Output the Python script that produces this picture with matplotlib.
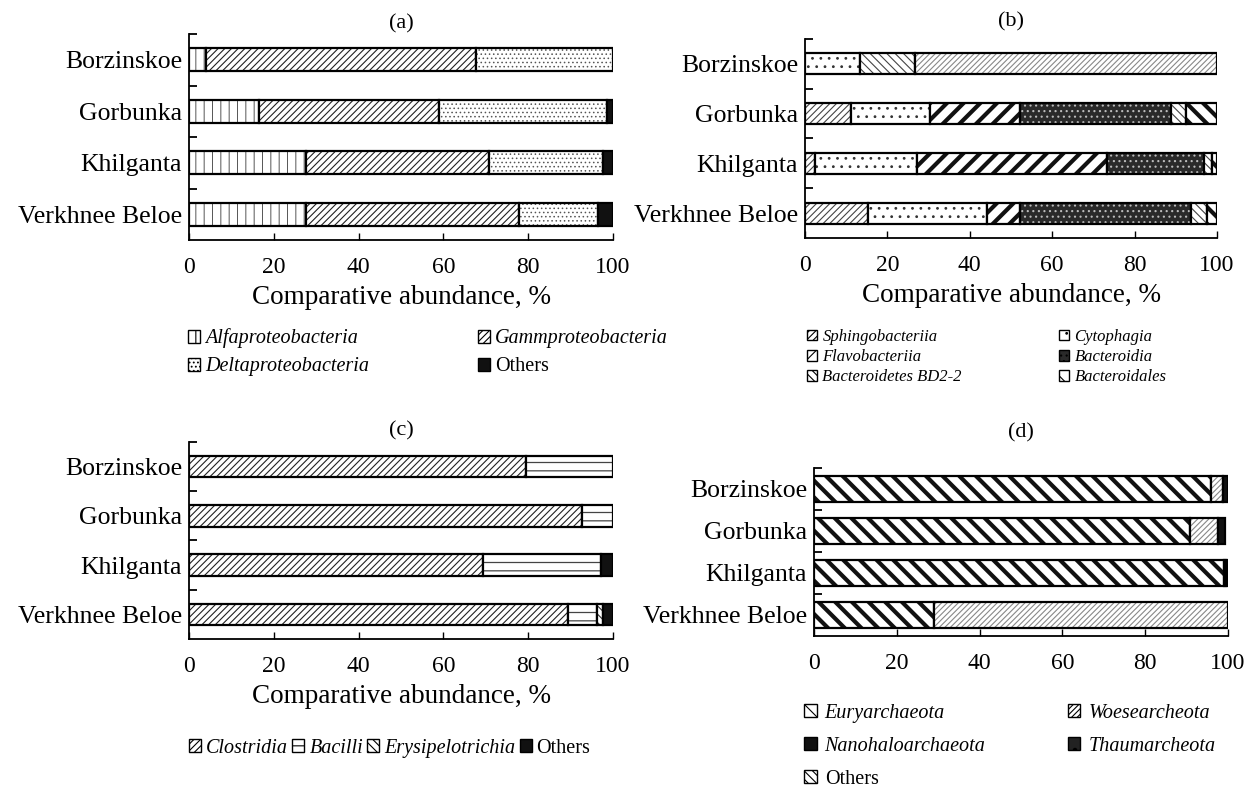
import matplotlib
matplotlib.use('Agg')
import matplotlib.pyplot as plt
from matplotlib.patches import Patch
import numpy as np

plt.rcParams['font.family'] = 'Liberation Serif'
plt.rcParams['hatch.linewidth'] = 0.8

lakes = ['Borzinskoe', 'Gorbunka', 'Khilganta', 'Verkhnee Beloe']

# (a) Proteobacteria, % per lake
a_labels = ['Alfaproteobacteria', 'Gammproteobacteria', 'Deltaproteobacteria', 'Others']
a_alfa = [4.1, 16.5, 27.6, 27.6]
a_gamma = [63.6, 42.4, 43.1, 50.2]
a_delta = [32.3, 39.7, 26.9, 18.6]
a_others = [0.0, 1.4, 2.4, 3.6]

# (b) Bacteroidetes
b_labels = ['Sphingobacteriia', 'Cytophagia', 'Flavobacteriia', 'Bacteroidia',
            'Bacteroidetes BD2-2', 'Bacteroidales']
b_sphingo = [0.0, 11.1, 2.4, 15.3]
b_cyto = [13.4, 19.2, 24.9, 28.9]
b_flavo = [0.0, 22.0, 46.0, 8.1]
b_bacteroidia = [0.0, 36.5, 23.5, 41.5]
b_bd22 = [13.3, 3.6, 1.9, 3.8]
b_bacteroidales = [0.0, 7.6, 1.3, 2.4]
b_unlisted = [73.3, 0.0, 0.0, 0.0]  # light hatched part, not in the legend

# (c) Firmicutes
c_labels = ['Clostridia', 'Bacilli', 'Erysipelotrichia', 'Others']
c_clostridia = [79.4, 92.7, 69.4, 89.4]
c_bacilli = [20.6, 7.3, 27.7, 6.7]
c_erysipelo = [0.0, 0.0, 0.0, 1.5]
c_others = [0.0, 0.0, 2.9, 2.4]

# (d) Archaea
d_labels = ['Euryarchaeota', 'Woesearcheota', 'Nanohaloarchaeota', 'Thaumarcheota', 'Others']
d_eury = [95.8, 90.8, 99.0, 28.9]
d_woese = [3.0, 6.9, 0.6, 71.1]
d_nanohalo = [1.2, 1.6, 0.0, 0.0]
d_thaum = [0.0, 0.0, 0.0, 0.0]
d_others = [0.0, 0.0, 0.4, 0.0]

# fill colour, hatch colour, hatch, hatch linewidth
def st(fc, hc, hatch, hlw=0.8):
    return dict(fc=fc, hc=hc, hatch=hatch, hlw=hlw)

a_styles = [st('white', '#555555', '||', 0.7), st('white', '#222222', '/////'),
            st('white', '#555555', '....', 0.6), st('#111111', '#111111', None)]
b_styles = [st('white', '#444444', '/////'), st('white', '#333333', '..', 0.8),
            st('white', '#111111', '//', 3.0), st('#2a2a2a', '#bbbbbb', '...', 0.8),
            st('white', '#444444', '\\\\\\\\'), st('white', '#111111', '\\\\', 3.0)]
b_extra = st('white', '#888888', '//////', 0.8)
c_styles = [st('white', '#222222', '/////'), st('white', '#444444', '--', 0.9),
            st('white', '#333333', '\\\\\\\\'), st('#111111', '#111111', None)]
d_styles = [st('white', '#111111', '\\\\', 3.0), st('white', '#888888', '//////', 0.8),
            st('#111111', '#111111', None), st('#222222', 'white', '.', 1.0),
            st('white', '#333333', '\\\\\\\\')]


def hatched(fn, s, **kw):
    with plt.rc_context({'hatch.linewidth': s['hlw']}):
        art = fn(facecolor=s['fc'], edgecolor=s['hc'], hatch=s['hatch'], **kw)
    items = art.patches if hasattr(art, 'patches') else [art]
    for p in items:
        if hasattr(p, 'set_hatch_linewidth'):
            p.set_hatch_linewidth(s['hlw'])
    return art


def stacked(ax, series, styles, height):
    y = np.arange(len(lakes))[::-1]
    left = np.zeros(len(lakes))
    for vals, s in zip(series, styles):
        vals = np.asarray(vals, float)
        m = vals > 0
        if m.any():
            hatched(lambda **kw: ax.barh(y[m], vals[m], height, left=left[m], **kw),
                    s, linewidth=0)
            ax.barh(y[m], vals[m], height, left=left[m], fill=False,
                    edgecolor='black', linewidth=1.6)
        left += vals
    ax.set_xlim(0, 100)
    ax.set_ylim(-0.5, 3.5)
    ax.set_yticks(y, lakes, fontsize=18.5)
    ax.set_yticks([0.5, 1.5, 2.5, 3.5], minor=True)
    ax.tick_params(axis='y', which='major', length=0, pad=5)
    ax.tick_params(axis='y', which='minor', length=6, width=1.3, direction='in')
    ax.set_xticks([0, 20, 40, 60, 80, 100])
    ax.tick_params(axis='x', labelsize=17, direction='in', length=5, width=1, pad=12)
    for side in ['top', 'right']:
        ax.spines[side].set_visible(False)
    for side in ['left', 'bottom']:
        ax.spines[side].set_linewidth(1.3)


def legend_items(styles, labels, order):
    hs, ls = [], []
    for i in order:
        s = styles[i]
        hs.append(Patch(facecolor=s['fc'], edgecolor='black', hatch=s['hatch'], linewidth=1.0))
        ls.append(labels[i])
    return hs, ls


fig = plt.figure(figsize=(12.57, 7.88), dpi=100)
ax_a = fig.add_axes([0.1504, 0.6954, 0.3373, 0.2614])
ax_b = fig.add_axes([0.6404, 0.6980, 0.3278, 0.2525])
ax_c = fig.add_axes([0.1504, 0.1891, 0.3373, 0.2500])
ax_d = fig.add_axes([0.6476, 0.1929, 0.3293, 0.2132])

stacked(ax_a, [a_alfa, a_gamma, a_delta, a_others], a_styles, 0.44)
stacked(ax_b, [b_sphingo, b_cyto, b_flavo, b_bacteroidia, b_bd22, b_bacteroidales, b_unlisted],
        b_styles + [b_extra], 0.42)
stacked(ax_c, [c_clostridia, c_bacilli, c_erysipelo, c_others], c_styles, 0.44)
stacked(ax_d, [d_eury, d_woese, d_nanohalo, d_thaum, d_others], d_styles, 0.6)

ax_a.set_title('(a)', fontsize=16, pad=4)
ax_b.set_title('(b)', fontsize=16, pad=9)
ax_c.set_title('(c)', fontsize=16, pad=5)
ax_d.set_title('(d)', fontsize=16, pad=22)

for ax in [ax_a, ax_b, ax_c]:
    ax.set_xlabel('Comparative abundance, %', fontsize=19.5, labelpad=5)

italic = {'style': 'italic', 'size': 14.5}
leg_kw = dict(loc='upper left', frameon=False, borderpad=0, handlelength=0.6,
              handleheight=0.6, handletextpad=0.25)

# matplotlib fills legend columns first, so reorder to read row by row
la = fig.legend(*legend_items(a_styles, a_labels, [0, 2, 1, 3]),
                bbox_to_anchor=(0.1416, 0.596), ncol=2, prop=italic,
                columnspacing=5.4, labelspacing=0.45, **leg_kw)
lb = fig.legend(*legend_items(b_styles, b_labels, [0, 2, 4, 1, 3, 5]),
                bbox_to_anchor=(0.635, 0.593), ncol=2,
                prop={'style': 'italic', 'size': 12}, columnspacing=5.8,
                labelspacing=0.25, **dict(leg_kw, handletextpad=0.35))
lc = fig.legend(*legend_items(c_styles, c_labels, [0, 1, 2, 3]),
                bbox_to_anchor=(0.1425, 0.075), ncol=4, prop=italic,
                columnspacing=0.2, **leg_kw)
ld = fig.legend(*legend_items(d_styles, d_labels, [0, 2, 4, 1, 3]),
                bbox_to_anchor=(0.632, 0.12), ncol=2, prop=italic,
                columnspacing=4.1, labelspacing=0.7, **dict(leg_kw, handletextpad=0.4))
for lg in [la, lc, ld]:
    for t in lg.get_texts():
        if t.get_text() == 'Others':
            t.set_style('normal')

fig.savefig('out.png', dpi=100)
